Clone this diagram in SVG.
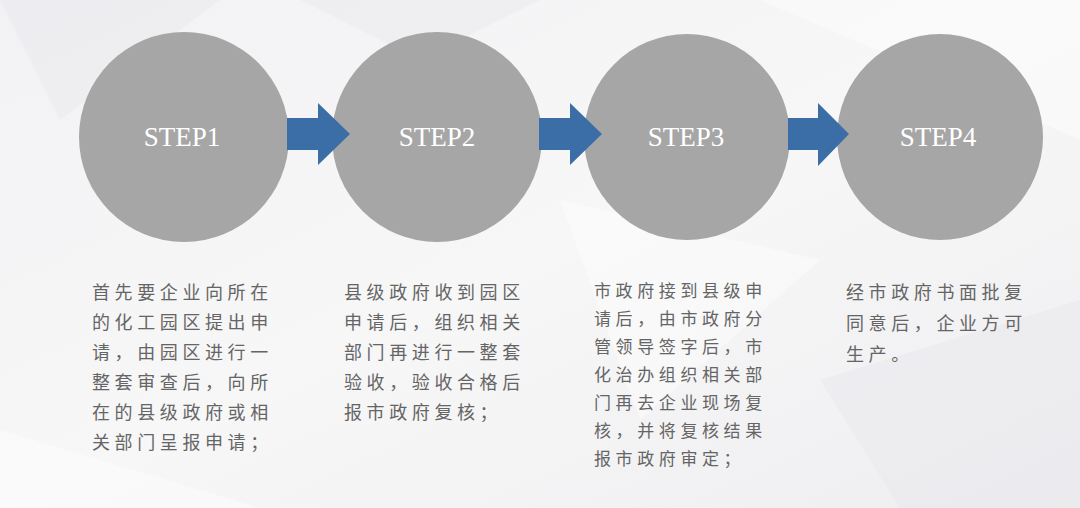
<svg xmlns="http://www.w3.org/2000/svg" width="1080" height="508" viewBox="0 0 1080 508">
  <defs>
    <linearGradient id="bg" x1="0" y1="0" x2="1" y2="1">
      <stop offset="0" stop-color="#f2f2f4"/>
      <stop offset="0.5" stop-color="#f7f7f8"/>
      <stop offset="1" stop-color="#eeeef0"/>
    </linearGradient>
    <style>
      .circle { fill: #a6a6a6; }
      .step { font-family: "Liberation Serif", "DejaVu Serif", serif; font-size: 27px; fill: #ffffff; text-anchor: middle; }
      .arrow { fill: #3b6ea7; }
      .desc { font-family: "Noto Sans CJK SC", "Noto Sans", sans-serif; font-size: 18px; fill: #656565; letter-spacing: 4.6px; }
      .desc3 { font-family: "Noto Sans CJK SC", "Noto Sans", sans-serif; font-size: 17px; fill: #656565; letter-spacing: 4.6px; }
      .facet { fill: #ffffff; opacity: 0.4; }
      .facet2 { fill: #e6e6ea; opacity: 0.35; }
    </style>
  </defs>
  <rect x="0" y="0" width="1080" height="508" fill="url(#bg)"/>
  <g id="background">
    <polygon class="facet" points="760,0 1080,0 1080,140 900,60"/>
    <polygon class="facet2" points="0,0 220,0 60,120"/>
    <polygon class="facet" points="560,200 820,260 640,420"/>
    <polygon class="facet2" points="820,380 1080,300 1080,508 900,508"/>
    <polygon class="facet" points="0,430 260,508 0,508"/>
    <polygon class="facet2" points="300,0 540,0 420,60"/>
  </g>

  <g id="step1">
    <circle class="circle" cx="184" cy="137" r="105"/>
    <text class="step" x="182" y="146">STEP1</text>
  </g>
  <g id="step2">
    <circle class="circle" cx="437" cy="137" r="105"/>
    <text class="step" x="437" y="146">STEP2</text>
  </g>
  <g id="step3">
    <circle class="circle" cx="687" cy="137" r="103"/>
    <text class="step" x="686" y="146">STEP3</text>
  </g>
  <g id="step4">
    <circle class="circle" cx="940" cy="137" r="103"/>
    <text class="step" x="938" y="146">STEP4</text>
  </g>

  <g id="connectors">
    <polygon class="arrow" points="287,118 318,118 318,103 350,134 318,165 318,150 287,150"/>
    <polygon class="arrow" points="539,118 570,118 570,103 602,134 570,165 570,150 539,150"/>
    <polygon class="arrow" points="788,118 818,118 818,103 849,134 818,166 818,150 788,150"/>
  </g>

  <g id="desc1">
    <text class="desc" x="92" y="299">首先要企业向所在</text>
    <text class="desc" x="92" y="329">的化工园区提出申</text>
    <text class="desc" x="92" y="359">请，由园区进行一</text>
    <text class="desc" x="92" y="389">整套审查后，向所</text>
    <text class="desc" x="92" y="419">在的县级政府或相</text>
    <text class="desc" x="92" y="449">关部门呈报申请；</text>
  </g>
  <g id="desc2">
    <text class="desc" x="344" y="299">县级政府收到园区</text>
    <text class="desc" x="344" y="329">申请后，组织相关</text>
    <text class="desc" x="344" y="359">部门再进行一整套</text>
    <text class="desc" x="344" y="389">验收，验收合格后</text>
    <text class="desc" x="344" y="419">报市政府复核；</text>
  </g>
  <g id="desc3">
    <text class="desc3" x="594" y="297">市政府接到县级申</text>
    <text class="desc3" x="594" y="325">请后，由市政府分</text>
    <text class="desc3" x="594" y="353">管领导签字后，市</text>
    <text class="desc3" x="594" y="381">化治办组织相关部</text>
    <text class="desc3" x="594" y="409">门再去企业现场复</text>
    <text class="desc3" x="594" y="437">核，并将复核结果</text>
    <text class="desc3" x="594" y="465">报市政府审定；</text>
  </g>
  <g id="desc4">
    <text class="desc" x="846" y="299">经市政府书面批复</text>
    <text class="desc" x="846" y="330">同意后，企业方可</text>
    <text class="desc" x="846" y="361">生产。</text>
  </g>
</svg>
